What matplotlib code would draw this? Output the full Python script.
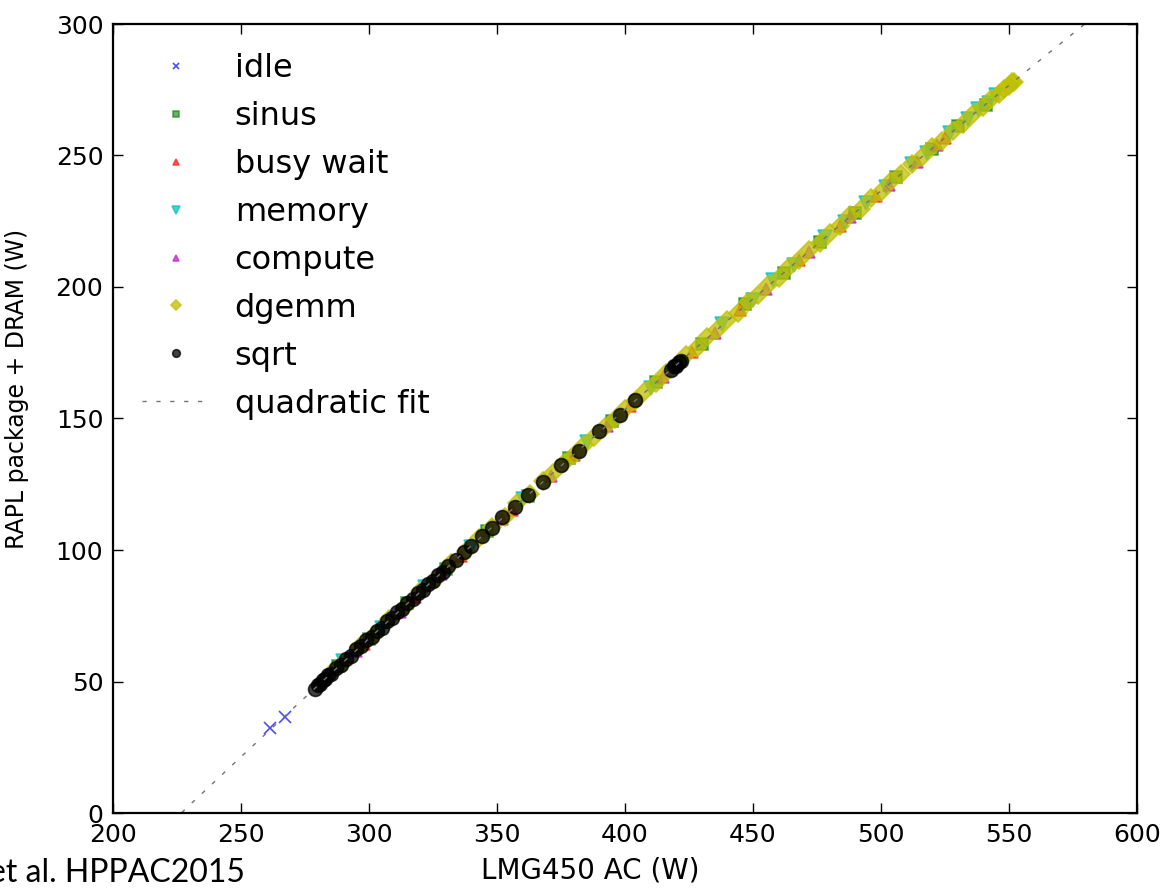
import numpy as np
import matplotlib
matplotlib.use("Agg")
import matplotlib.pyplot as plt

# power readings (W): LMG450 AC on x, RAPL package + DRAM on y
idle_x = [261.3, 267.2]
idle_y = [32.3, 36.5]

sinus_x = [288, 300, 315, 330, 346, 362, 378, 395, 412, 430, 447, 462, 476, 490, 506, 520, 530, 541]
sinus_y = [55.9, 66.0, 79.9, 92.6, 107.2, 120.5, 134.9, 148.9, 164.0, 178.5, 193.4, 205.2, 217.3, 228.2,
           241.8, 252.5, 261.1, 269.3]

busy_x = [298, 318, 336, 356, 380, 402, 426, 445, 468, 484, 498, 525]
busy_y = [64.2, 82.0, 97.9, 115.3, 136.1, 154.9, 175.2, 191.1, 210.2, 223.3, 234.7, 256.5]

memory_x = [290, 305, 322, 340, 360, 385, 410, 438, 450, 458, 466, 478, 486, 494, 502, 512, 518, 527,
            534, 538, 542, 545]
memory_y = [57.8, 70.5, 86.1, 101.3, 119.4, 140.9, 161.7, 185.8, 195.2, 202.5, 208.5, 219.0, 224.9, 232.1,
            238.0, 246.6, 250.9, 258.7, 263.7, 267.5, 270.1, 273.1]

compute_x = [295, 312, 328, 352, 371, 393, 415, 435, 455, 472, 488, 503, 514, 522]
compute_y = [61.5, 76.6, 90.7, 111.7, 128.2, 147.1, 165.8, 182.6, 199.3, 213.4, 226.5, 238.7, 247.6, 254.0]

dgemm_x = [285, 290, 296, 302, 308, 314, 320, 326, 332, 338, 343, 348, 353, 358, 363, 368, 372, 376,
           380, 384, 388, 392, 396, 400, 404, 408, 412, 416, 420, 424, 428, 432, 436, 440, 444, 448,
           452, 456, 460, 464, 468, 472, 476, 480, 484, 488, 492, 496, 500, 504, 508, 512, 516, 520,
           524, 528, 532, 536, 540, 543, 546, 548, 550, 551, 552]
dgemm_y = [53.2, 57.1, 63.0, 67.8, 73.8, 78.5, 84.4, 89.1, 95.0, 99.6, 104.6, 108.9, 112.7, 117.7,
           121.4, 126.3, 129.2, 133.2, 136.1, 140.1, 142.9, 146.9, 149.8, 153.8, 156.6, 160.6, 163.4,
           167.3, 170.1, 174.1, 176.9, 180.8, 183.6, 187.5, 190.3, 194.2, 196.9, 200.8, 203.6, 207.5,
           210.2, 214.1, 216.7, 220.6, 223.3, 227.2, 229.8, 233.7, 236.3, 240.2, 242.8, 246.6, 249.3,
           253.1, 255.7, 259.5, 262.1, 265.9, 268.5, 271.5, 273.2, 275.4, 276.5, 277.8, 278.1]

sqrt_x = [279, 280, 281, 282, 283, 284, 285, 287, 289, 291, 293, 295, 297, 299, 301, 303, 305, 307,
          309, 311, 313, 315, 317, 319, 321, 323, 325, 327, 329, 331, 334, 337, 340, 344, 348, 352,
          357, 362, 368, 375, 382, 390, 398, 404, 418, 419, 420, 421, 422]
sqrt_y = [47.3, 48.6, 49.1, 50.5, 51.0, 52.3, 52.7, 55.0, 56.2, 58.6, 59.8, 62.2, 63.5, 65.8, 67.0,
          69.3, 70.5, 72.9, 74.0, 76.4, 77.6, 80.0, 81.2, 83.5, 84.7, 87.0, 88.2, 90.6, 91.8, 94.1,
          96.2, 99.3, 101.5, 105.5, 108.4, 112.4, 116.2, 121.1, 125.7, 132.4, 137.8, 145.2, 151.5,
          157.1, 168.4, 169.8, 170.1, 171.5, 171.9]

series = [
    ("idle", idle_x, idle_y, "x", "b", 8, 0.7),
    ("sinus", sinus_x, sinus_y, "s", "g", 9, 0.6),
    ("busy wait", busy_x, busy_y, "^", "r", 8, 0.6),
    ("memory", memory_x, memory_y, "v", "c", 10, 0.7),
    ("compute", compute_x, compute_y, "^", "m", 8, 0.6),
    ("dgemm", dgemm_x, dgemm_y, "D", "y", 9, 0.75),
    ("sqrt", sqrt_x, sqrt_y, "o", "k", 10, 0.75),
]

fig = plt.figure(figsize=(11.75, 8.88), dpi=100)
ax = fig.add_axes([113 / 1175, 1 - 813 / 888, 1024 / 1175, 789 / 888])

for name, xs, ys, mk, col, ms, al in series:
    ax.plot(xs, ys, linestyle="none", marker=mk, color=col, markersize=ms, alpha=al,
            markeredgewidth=1.2, label=name)

# quadratic fit over all measurements
all_x = np.concatenate([s[1] for s in series])
all_y = np.concatenate([s[2] for s in series])
coef = np.polyfit(all_x, all_y, 2)
fx = np.linspace(215, 600, 300)
ax.plot(fx, np.polyval(coef, fx), color="0.45", linestyle=(0, (3, 7)), linewidth=1.0,
        label="quadratic fit")

ax.set_xlim(200, 600)
ax.set_ylim(0, 300)
ax.set_xticks(range(200, 601, 50))
ax.set_yticks(range(0, 301, 50))
ax.tick_params(direction="in", length=7, width=1, top=True, right=True, labelsize=18, pad=7)
for sp in ax.spines.values():
    sp.set_linewidth(1.6)

ax.set_xlabel("LMG450 AC (W)", fontsize=20)
ax.set_ylabel("RAPL package + DRAM (W)", fontsize=17)
ax.xaxis.set_label_coords((590 - 113) / 1024, -(856 - 813) / 789)
ax.yaxis.set_label_coords(-(113 - 29) / 1024, (813 - 389) / 789)

leg = ax.legend(loc="upper left", bbox_to_anchor=(29 / 1024, 1 - 29 / 789), frameon=False,
                fontsize=23, numpoints=1, markerscale=0.55, handlelength=2.1, handletextpad=0.8,
                labelspacing=0.53, borderpad=0, borderaxespad=0)

fig.text(245 / 1175, 1 - 882 / 888, "et al. HPPAC2015", ha="right", va="baseline",
         fontsize=23, family=["Lato", "DejaVu Sans"])

fig.savefig("out.png", dpi=100)
